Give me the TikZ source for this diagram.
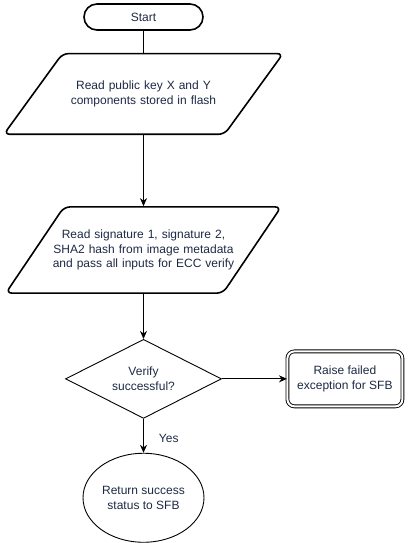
\documentclass[tikz,border=0pt]{standalone}
\usepackage{fontspec}
\setmainfont{Liberation Sans}
\usetikzlibrary{arrows.meta}
\usetikzlibrary{positioning}
\usetikzlibrary{shapes.geometric}
\definecolor{labelnavy}{RGB}{29,41,68}
\tikzset{>={Stealth[length=8pt,width=7pt]}}

\begin{document}
\begin{tikzpicture}[x=1pt, y=1pt, node distance=22pt, line width=0.9pt,
        every node/.style={font=\fontsize{12}{14.5}\selectfont, text=labelnavy, align=center},
        terminal/.style={draw, line width=1.6pt, rounded corners=13pt, minimum width=119pt, minimum height=26pt},
        inputbox/.style={draw, line width=1.6pt, trapezium, rounded corners=6pt, inner xsep=0pt},
        decision/.style={draw, diamond, aspect=2, inner sep=0pt, minimum width=156pt, minimum height=79pt},
        failbox/.style={draw, double, double distance=2pt, rounded corners=7pt, minimum width=115pt, minimum height=55pt},
        endstate/.style={draw, ellipse, inner sep=0pt, minimum width=121pt, minimum height=89pt}]
        \useasboundingbox (0,0) rectangle (408,-543);

        \node [terminal] (Start) at (143.5,-17) {Start};

        \node [inputbox, below=of Start, trapezium left angle=54, trapezium right angle=126,
            text width=162pt, inner ysep=27.5pt] (ReadKey)
            {Read public key X and Y\\components stored in flash};

        \node [inputbox, below=71pt of ReadKey, trapezium left angle=56, trapezium right angle=124,
            text width=190pt, inner xsep=-15.5pt, inner ysep=23pt] (ReadSig)
            {Read signature 1, signature 2,\\SHA2 hash from image metadata\\and pass all inputs for ECC verify};

        \node [decision, below=45pt of ReadSig] (Verify) {Verify\\successful?};

        \node [failbox, right=65pt of Verify] (RaiseFail) {Raise failed\\exception for SFB};

        \node [endstate, below=34pt of Verify] (ReturnOk) {Return success\\status to SFB};

        \draw (Start)--(ReadKey);
        \draw [->] (ReadKey)--(ReadSig);
        \draw [->] (ReadSig)--(Verify);
        \draw [->] (Verify)--(RaiseFail);
        \draw [->] (Verify)--(ReturnOk)
            node [midway, right=15pt, inner sep=0pt, yshift=-3pt] {Yes};
    \end{tikzpicture}
\end{document}
